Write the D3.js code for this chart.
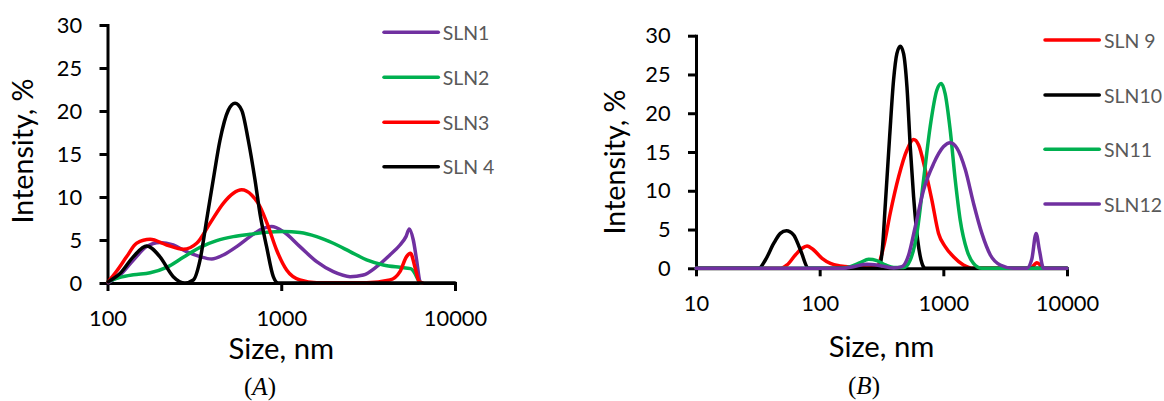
<!DOCTYPE html>
<html><head><meta charset="utf-8">
<script src="https://cdn.jsdelivr.net/npm/d3@7"></script>
<style>body{margin:0;background:#fff}</style>
</head><body>
<svg id="c" width="1164" height="401"></svg>
<script>
// ---------- data ----------
const yTicks = [0, 5, 10, 15, 20, 25, 30];
const xTicksA = [100, 1000, 10000];
const xTicksB = [10, 100, 1000, 10000];
const namesA = ["SLN1", "SLN2", "SLN3", "SLN 4"];
const namesB = ["SLN 9", "SLN10", "SN11", "SLN12"];
const colorsA = ["#7030A0", "#00B050", "#FF0000", "#000000"];
const colorsB = ["#FF0000", "#000000", "#00B050", "#7030A0"];

// Panel A: [size nm, intensity %]
const sln1 = [[101,0.04],[118,0.93],[141,2.68],[168,4.23],[200,4.7],[239,4.42],[285,3.65],[341,3.07],[398,2.79],[464,3.26],[554,4.23],[661,5.39],[788,6.36],[880,6.56],[1027,5.98],[1281,4.23],[1599,2.48],[1994,1.32],[2488,0.74],[2967,0.93],[3540,1.9],[4217,3.26],[4823,4.42],[5222,5.39],[5457,6.29],[5754,5.0],[6012,2.68],[6285,0.16],[6400,0]];
const sln2 = [[101,0.16],[118,0.66],[141,0.97],[176,1.2],[219,1.82],[273,2.99],[341,4.15],[425,4.93],[530,5.39],[661,5.67],[824,5.9],[1027,5.98],[1281,5.86],[1599,5.39],[1994,4.62],[2488,3.65],[3100,2.68],[3867,2.1],[4823,1.82],[5547,1.67],[5872,1.13],[6148,0.35],[6340,0]];
const sln3 = [[101,0.16],[113,1.4],[129,3.07],[147,4.62],[176,5.08],[219,4.42],[273,3.92],[326,4.62],[389,6.95],[464,9.27],[530,10.44],[592,10.83],[675,10.24],[754,8.89],[842,6.56],[940,3.84],[1074,1.51],[1281,0.35],[1599,0.04],[3100,0.04],[4217,0.35],[4823,1.32],[5261,3.07],[5547,3.45],[5872,1.9],[6222,0.16],[6500,0]];
const sln4 = [[101,0.15],[118,1.1],[141,3.07],[168,4.3],[200,3.07],[239,0.74],[279,0],[312,0.35],[341,2.68],[372,7.33],[406,12.0],[444,16.6],[496,20.1],[542,20.9],[592,20.1],[646,16.6],[706,12.0],[754,8.1],[824,4.2],[900,0.74],[961,0],[10000,0]];

// Panel B
const sln9 = [[10,0],[48.2,0],[54.5,0.43],[63.6,1.72],[72,2.58],[79,2.88],[89.5,2.36],[104.5,1.29],[122,0.64],[147,0.3],[188,0.13],[241,0.04],[290,0.21],[329,2.79],[372,7.1],[435,11.8],[508,15.25],[575,16.6],[631,15.9],[714,12.7],[808,8.8],[915,4.5],[1035,2.8],[1208,1.5],[1455,0.43],[1753,0],[5040,0],[5420,0.43],[5700,0.73],[6070,0.43],[6460,0],[10000,0]];
const sln10 = [[10,0],[32.2,0],[36.4,1.07],[42.5,3.2],[48.1,4.5],[53.8,4.85],[61.7,4.29],[69.9,2.36],[81.5,0],[300,0],[319,1.93],[340,8.4],[368,17],[396,24.3],[421,27.7],[449,28.65],[477,27.7],[508,23.4],[540,15.7],[575,9.2],[620,3.65],[672,0.64],[714,0],[10000,0]];
const sn11 = [[10,0],[147,0],[177,0.21],[213,0.73],[249,1.16],[290,0.99],[340,0.43],[397,0.09],[478,0.09],[540,1.07],[611,4.5],[692,11.4],[783,18.3],[887,23],[962,23.84],[1035,22.5],[1137,17.8],[1248,11.4],[1370,6.2],[1550,2.36],[1753,0.64],[2050,0],[10000,0]];
const sln12 = [[10,0],[156,0],[188,0.21],[241,0.52],[309,0.34],[397,0.04],[463,0.21],[524,1.72],[593,5.37],[692,10.1],[834,13.5],[1005,15.7],[1137,16.2],[1288,15.5],[1507,12.7],[1753,8.4],[2050,4.5],[2400,1.72],[2885,0.43],[3690,0],[4730,0],[5190,1.16],[5625,4.5],[5980,2.36],[6460,0],[10000,0]];

// ---------- drawing ----------
const svg = d3.select("#c");
const FAM = "Lato";
function fit(str, family, target) {
  const t = svg.append("text").attr("font-family", family).attr("font-size", 100).text(str);
  const w = t.node().getComputedTextLength(); t.remove();
  return 100 * target / w;
}
const tickFS = fit("1000", FAM, 50.7);
const legFS = fit("SLN1", FAM, 46.7);
const xtFS = fit("Size, nm", FAM, 105.7);
const ytFS = fit("Intensity, %", FAM, 145);

function panel(cfg) {
  const x = d3.scaleLog().domain(cfg.xd).range(cfg.xr);
  const y = d3.scaleLinear().domain([0, 30]).range(cfg.yr);
  const g = svg.append("g");

  const ya = g.append("g").attr("transform", `translate(${cfg.xr[0]},0)`)
    .call(d3.axisLeft(y).tickValues(yTicks).tickSize(8).tickSizeOuter(0).tickPadding(17.3));
  const xa = g.append("g").attr("transform", `translate(0,${cfg.yr[0]})`)
    .call(d3.axisBottom(x).tickValues(cfg.xt).tickFormat(d3.format("d")).tickSize(8).tickSizeOuter(0).tickPadding(19));
  [ya, xa].forEach(a => {
    a.select(".domain").attr("stroke", "#000").attr("stroke-width", 3).attr("stroke-linecap", "square");
    a.selectAll(".tick line").attr("stroke", "#000").attr("stroke-width", 3);
    a.selectAll(".tick text").attr("font-family", FAM).attr("font-size", tickFS).attr("fill", "#000");
  });

  const line = d3.line().x(d => x(d[0])).y(d => y(Math.max(0, d[1]))).curve(d3.curveMonotoneX);
  cfg.series.forEach((s, i) => {
    g.append("path").attr("d", line(s)).attr("fill", "none")
      .attr("stroke", cfg.colors[i]).attr("stroke-width", 3.5)
      .attr("stroke-linejoin", "round").attr("stroke-linecap", "round");
  });

  cfg.names.forEach((n, i) => {
    const ly = cfg.legY[i];
    g.append("line").attr("x1", cfg.legX[0]).attr("x2", cfg.legX[1]).attr("y1", ly).attr("y2", ly)
      .attr("stroke", cfg.colors[i]).attr("stroke-width", 3.5).attr("stroke-linecap", "round");
    g.append("text").attr("x", cfg.legX[2]).attr("y", ly).attr("dominant-baseline", "central")
      .attr("font-family", FAM).attr("font-size", legFS).attr("fill", "#595959").text(n);
  });

  g.append("text").attr("transform", `translate(${cfg.yt[0]},${cfg.yt[1]}) rotate(-90)`)
    .attr("text-anchor", "middle").attr("font-family", FAM).attr("font-size", ytFS).text("Intensity, %");
  g.append("text").attr("x", (cfg.xr[0] + cfg.xr[1]) / 2).attr("y", cfg.xtY)
    .attr("text-anchor", "middle").attr("font-family", FAM).attr("font-size", xtFS).text("Size, nm");
  const cap = g.append("text").attr("x", cfg.cap[0]).attr("y", cfg.cap[1]).attr("text-anchor", "middle")
    .attr("font-family", "Liberation Serif").attr("font-size", 25);
  cap.append("tspan").text("(");
  cap.append("tspan").attr("font-style", "italic").text(cfg.capText);
  cap.append("tspan").text(")");
}

panel({
  xd: [100, 10000], xr: [107.5, 455], yr: [283, 25], xt: xTicksA,
  series: [sln1, sln2, sln3, sln4], colors: colorsA, names: namesA,
  legX: [384, 438.3, 442.7], legY: [32.3, 77.3, 122.3, 166.7],
  yt: [33, 151], xtY: 359, cap: [260, 395], capText: "A"
});
panel({
  xd: [10, 10000], xr: [696, 1067], yr: [268.3, 35.7], xt: xTicksB,
  series: [sln9, sln10, sn11, sln12], colors: colorsB, names: namesB,
  legX: [1045, 1099.3, 1104], legY: [40, 95, 149.3, 204],
  yt: [625, 162], xtY: 357, cap: [864, 394], capText: "B"
});
</script>
</body></html>
